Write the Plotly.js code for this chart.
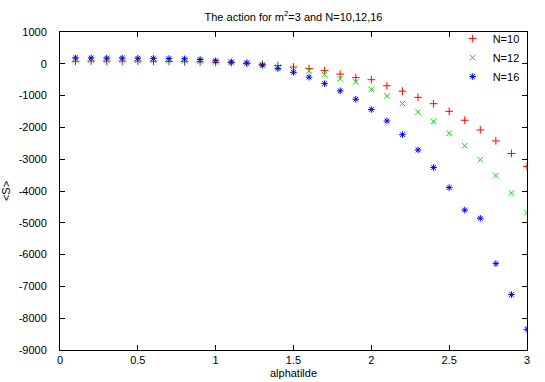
<!DOCTYPE html>
<html>
<head>
<meta charset="utf-8">
<script src="https://cdn.plot.ly/plotly-3.0.1.min.js"></script>
<style>html,body{margin:0;padding:0;background:#fff}#chart{width:545px;height:382px}</style>
</head>
<body>
<div id="chart"></div>
<script>
const alphatilde = [0.1,0.2,0.3,0.4,0.5,0.6,0.7,0.8,0.9,1.0,1.1,1.2,1.3,1.4,1.5,1.6,1.7,1.8,1.9,2.0,2.1,2.2,2.3,2.4,2.5,2.6,2.7,2.8,2.9,3.0];
const sN10 = [80,85,85,85,85,80,75,70,60,45,35,15,-15,-55,-100,-150,-215,-325,-435,-500,-690,-860,-1055,-1255,-1495,-1775,-2080,-2425,-2820,-3230];
const sN12 = [115,115,115,115,110,110,105,100,90,55,40,20,-35,-100,-205,-225,-340,-470,-570,-805,-1010,-1250,-1520,-1810,-2185,-2575,-3015,-3515,-4065,-4680];
const sN16 = [185,185,180,180,175,170,165,155,135,95,57,25,-47,-150,-267,-420,-624,-850,-1116,-1436,-1798,-2228,-2710,-3260,-3893,-4598,-4859,-6284,-7259,-8350];
const seriesNames = ["N=10","N=12","N=16"];
const xTicks = [0,0.5,1,1.5,2,2.5,3];
const yTicks = [1000,0,-1000,-2000,-3000,-4000,-5000,-6000,-7000,-8000,-9000];

const font = {family: "Liberation Sans, Arial, sans-serif", size: 11, color: "#000"};
function tr(y, name, sym, col) {
  return {x: alphatilde, y: y, name: name, type: "scatter", mode: "markers",
    marker: {symbol: sym, size: 5.5, color: col, line: {color: col, width: 1}}};
}
const data = [
  tr(sN10, seriesNames[0], "cross-thin-open", "#ff0000"),
  tr(sN12, seriesNames[1], "x-thin-open", "#00e000"),
  tr(sN16, seriesNames[2], "asterisk-open", "#0000ff")
];
const axis = {showgrid: false, zeroline: false, showline: true, linecolor: "#000", linewidth: 1,
  mirror: "ticks", ticks: "inside", ticklen: 5, tickcolor: "#000", tickfont: font};
const layout = {
  width: 545, height: 382,
  margin: {l: 60, r: 18, t: 32, b: 32},
  paper_bgcolor: "#fff", plot_bgcolor: "#fff",
  font: font,
  title: {text: "The action for m<sup>2</sup>=3 and N=10,12,16", font: font,
    xref: "paper", x: 0.5, yref: "container", y: 0.955, yanchor: "middle"},
  xaxis: Object.assign({}, axis, {range: [0, 3], tickvals: xTicks, ticktext: xTicks.map(String),
    title: {text: "alphatilde", font: font, standoff: 4}}),
  yaxis: Object.assign({}, axis, {range: [-9000, 1000], tickvals: yTicks, ticktext: yTicks.map(String),
    ticklabelstandoff: 10, title: {text: "&lt;S&gt;", font: font, standoff: 10}}),
  legend: {x: 0.995, xanchor: "right", y: 1.025, yanchor: "top", bgcolor: "rgba(0,0,0,0)",
    font: font, tracegroupgap: 0, itemwidth: 30},
  showlegend: true
};
Plotly.newPlot("chart", data, layout, {staticPlot: true, displayModeBar: false});
</script>
</body>
</html>
